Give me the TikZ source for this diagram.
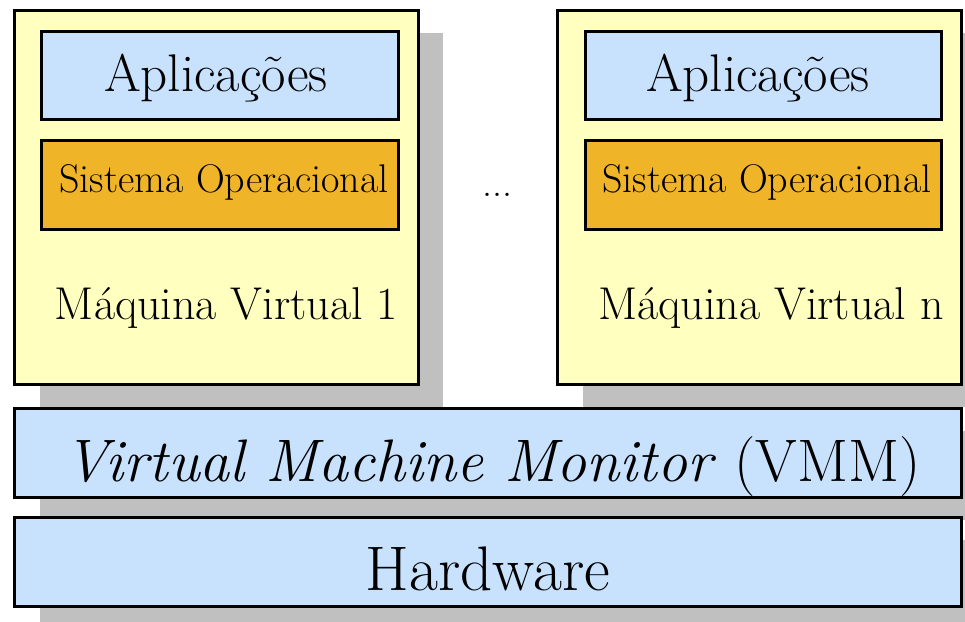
\documentclass[tikz,border=0pt]{standalone}
\usepackage{fontspec}
\definecolor{vmyellow}{HTML}{FFFFC0}
\definecolor{layerblue}{HTML}{C8E2FE}
\definecolor{osorange}{HTML}{F0B428}
\definecolor{shadowgray}{HTML}{C0C0C0}
\tikzset{
  shadowbox/.style={fill=shadowgray, draw=none},
  vmbox/.style={fill=vmyellow, draw=black, line width=3pt},
  appbox/.style={fill=layerblue, draw=black, line width=3pt},
  osbox/.style={fill=osorange, draw=black, line width=3pt},
  layerbox/.style={fill=layerblue, draw=black, line width=3pt},
  txt/.style={anchor=base, inner sep=0pt, text=black},
}
\newcommand{\fsz}[1]{\fontsize{#1}{#1}\selectfont}
\begin{document}
\begin{tikzpicture}[x=1pt, y=-1pt]
  % canvas
  \path[use as bounding box] (0,0) rectangle (965,621);
  \begin{scope}
    \clip (0,0) rectangle (965,621);
    % drop shadows
    \fill[shadowbox] (40,33) rectangle (443,407);
    \fill[shadowbox] (583,33) rectangle (990,407);
    \fill[shadowbox] (40,431) rectangle (990,520);
    \fill[shadowbox] (40,540) rectangle (990,640);
  \end{scope}

  % virtual machine 1
  \draw[vmbox] (14.5,10.5) rectangle (418,384.5);
  \draw[appbox] (41.5,31.5) rectangle (398,119.5);
  \draw[osbox] (41.5,140.5) rectangle (398,229.5);
  \node[txt, font=\fsz{53}] (app1) at (216,91) {Aplicações};
  \node[txt, font=\fsz{40}] (os1) at (224,192) {Sistema Operacional};
  \node[txt, font=\fsz{46}] (vm1) at (226.5,319) {Máquina Virtual 1};

  % dots between the machines
  \node[txt, font=\fsz{40}] (dots) at (497,196) {...};

  % virtual machine n
  \draw[vmbox] (557.5,10.5) rectangle (961,384.5);
  \draw[appbox] (585,31.5) rectangle (941.5,119.5);
  \draw[osbox] (585,140.5) rectangle (941.5,229.5);
  \node[txt, font=\fsz{53}] (appn) at (758,91) {Aplicações};
  \node[txt, font=\fsz{40}] (osn) at (767,192) {Sistema Operacional};
  \node[txt, font=\fsz{46}] (vmn) at (771,319) {Máquina Virtual n};

  % monitor layer
  \draw[layerbox] (14.5,408) rectangle (961.5,497);
  \node[txt, font=\fsz{60}] (vmm) at (492.5,481) {\textit{Virtual Machine Monitor} (VMM)};

  % hardware layer
  \draw[layerbox] (14.5,517.5) rectangle (961.5,606.5);
  \node[txt, font=\fsz{63}] (hw) at (488,590) {Hardware};
\end{tikzpicture}
\end{document}
